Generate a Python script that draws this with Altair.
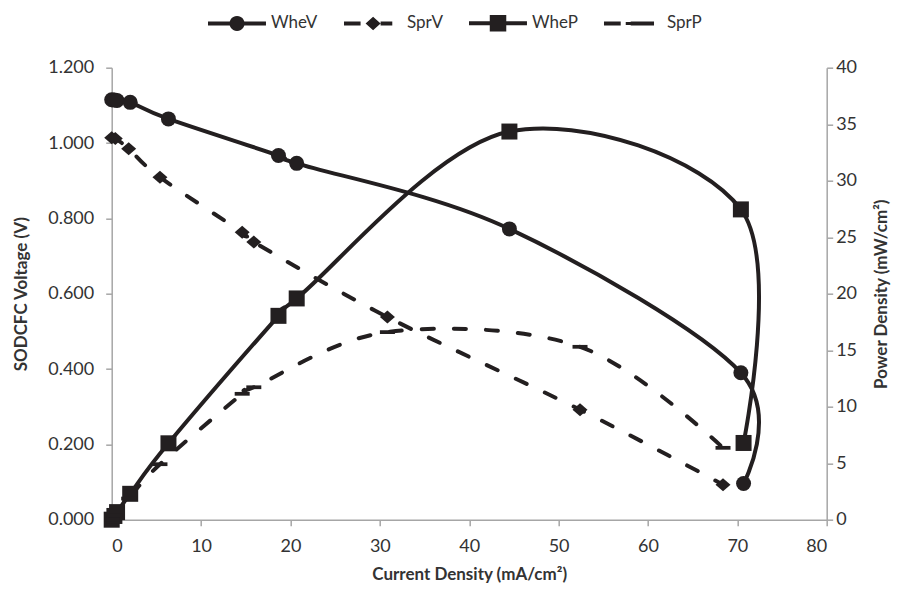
import math
import altair as alt
import pandas as pd

INK = "#231f20"
AXIS_GREY = "#a6a6a6"
TEXT = "#333333"
FONT = "Lato"

series_names = ["WheV", "SprV", "WheP", "SprP"]

# wheat-based fuel cell
whe_current = [0.0, 0.3, 0.6, 2.07, 6.35, 18.66, 20.7, 44.5, 70.4, 70.7]
whe_voltage = [1.115, 1.114, 1.113, 1.108, 1.064, 0.967, 0.946, 0.772, 0.390, 0.096]
whe_power = [0.0, 0.33, 0.67, 2.29, 6.76, 18.04, 19.58, 34.35, 27.46, 6.79]

# sprouted fuel cell
spr_current = [0.0, 0.4, 1.9, 5.4, 14.6, 15.9, 30.85, 52.4, 68.4]
spr_voltage = [1.014, 1.012, 0.985, 0.909, 0.763, 0.737, 0.538, 0.292, 0.093]
spr_power = [0.0, 0.40, 1.87, 4.91, 11.14, 11.72, 16.60, 15.30, 6.36]

x_ticks = [0, 10, 20, 30, 40, 50, 60, 70, 80]
v_ticks = [0.0, 0.2, 0.4, 0.6, 0.8, 1.0, 1.2]
p_ticks = [0, 5, 10, 15, 20, 25, 30, 35, 40]

vdf = pd.DataFrame({
    "series": ["WheV"] * len(whe_current) + ["SprV"] * len(spr_current),
    "current": whe_current + spr_current,
    "value": whe_voltage + spr_voltage,
})
pdf = pd.DataFrame({
    "series": ["WheP"] * len(whe_current) + ["SprP"] * len(spr_current),
    "current": whe_current + spr_current,
    "value": whe_power + spr_power,
})
legend_df = pd.DataFrame({"series": series_names,
                          "current": [0.0] * 4, "value": [0.0] * 4})


# legend symbols: line segment + marker, in symbol units (straight segments only)
def bar(x0, x1, h):
    return f"M{x0:.2f},{-h:.2f}L{x1:.2f},{-h:.2f}L{x1:.2f},{h:.2f}L{x0:.2f},{h:.2f}Z"


def disc(cx, r, n=24):
    pts = [(cx + r * math.cos(2 * math.pi * k / n), r * math.sin(2 * math.pi * k / n))
           for k in range(n)]
    return "M" + "L".join(f"{px:.2f},{py:.2f}" for px, py in pts) + "Z"


def rhomb(cx, rx, ry):
    return f"M{cx - rx:.2f},0L{cx:.2f},{-ry:.2f}L{cx + rx:.2f},0L{cx:.2f},{ry:.2f}Z"


def box(cx, r):
    return bar(cx - r, cx + r, r)


legend_paths = [
    bar(-1, 1.97, 0.27) + disc(2.87, 1.0) + bar(3.77, 6.73, 0.27),
    bar(-1, 1.21, 0.27) + rhomb(2.88, 1.0, 0.9) + bar(3.88, 5.44, 0.27),
    bar(-1, 1.77, 0.27) + box(2.87, 1.1) + bar(3.97, 6.73, 0.27),
    bar(-1, 1.23, 0.27) + bar(1.9, 3.87, 0.2) + bar(2.56, 5.67, 0.27),
]

x_axis = alt.Axis(values=x_ticks, title="Current Density (mA/cm²)", grid=False,
                  domainColor=AXIS_GREY, domainWidth=1.5, tickColor=AXIS_GREY,
                  tickWidth=1.5, tickSize=6, labelFont=FONT, labelFontSize=18,
                  labelColor=TEXT, labelPadding=12, titleFont=FONT,
                  titleFontSize=17, titleFontWeight="bold", titleColor=TEXT,
                  titlePadding=11)
v_axis = alt.Axis(values=v_ticks, format=".3f", title="SODCFC Voltage (V)",
                  grid=False, domainColor=AXIS_GREY, domainWidth=1.5,
                  tickColor=AXIS_GREY, tickWidth=1.5, tickSize=6,
                  labelFont=FONT, labelFontSize=18, labelColor=TEXT,
                  labelPadding=12, titleFont=FONT, titleFontSize=17,
                  titleFontWeight="bold", titleColor=TEXT, titlePadding=17)
p_axis = alt.Axis(values=p_ticks, orient="right", title="Power Density (mW/cm²)",
                  grid=False, domainColor=AXIS_GREY, domainWidth=1.5,
                  tickColor=AXIS_GREY, tickWidth=1.5, tickSize=6,
                  labelFont=FONT, labelFontSize=18, labelColor=TEXT,
                  labelPadding=3, titleFont=FONT, titleFontSize=17,
                  titleFontWeight="bold", titleColor=TEXT, titlePadding=17,
                  titleAngle=270, titleBaseline="top")

x_enc = alt.X("current:Q", scale=alt.Scale(domain=[0, 80], nice=False, zero=False), axis=x_axis)
yv_enc = alt.Y("value:Q", scale=alt.Scale(domain=[0, 1.2], nice=False), axis=v_axis)
yp_enc = alt.Y("value:Q", scale=alt.Scale(domain=[0, 40], nice=False), axis=p_axis)


def line_layer(df, name, dashed, y_enc):
    style = dict(interpolate="cardinal", tension=0, strokeWidth=4, color=INK,
                 strokeCap="round")
    if dashed:
        style["strokeDash"] = [12, 20]
    return alt.Chart(df).transform_filter(alt.datum.series == name).mark_line(
        **style).encode(x=x_enc, y=y_enc)


def marker_layer(df, name, shape, size, y_enc):
    return alt.Chart(df).transform_filter(alt.datum.series == name).mark_point(
        shape=shape, size=size, filled=True, opacity=1, color=INK, strokeWidth=0
    ).encode(x=x_enc, y=y_enc)


legend_layer = alt.Chart(legend_df).mark_point(
    filled=True, opacity=0, color=INK, size=225, strokeWidth=0
).encode(
    x=x_enc, y=yv_enc,
    shape=alt.Shape("series:N",
                    scale=alt.Scale(domain=series_names, range=legend_paths),
                    legend=alt.Legend(orient="none", legendX=95.3, legendY=-53,
                                      direction="horizontal", title=None,
                                      labelFont=FONT, labelFontSize=17,
                                      labelColor=TEXT, labelOffset=47,
                                      columnPadding=25, symbolSize=225,
                                      symbolStrokeWidth=0, symbolFillColor=INK,
                                      symbolOpacity=1, padding=0)),
)

left = alt.layer(
    line_layer(vdf, "WheV", False, yv_enc),
    line_layer(vdf, "SprV", True, yv_enc),
    marker_layer(vdf, "WheV", "circle", 225, yv_enc),
    marker_layer(vdf, "SprV", "M-1,0L0,-0.87L1,0L0,0.87Z", 225, yv_enc),
    legend_layer,
)
right = alt.layer(
    line_layer(pdf, "WheP", False, yp_enc),
    line_layer(pdf, "SprP", True, yp_enc),
    marker_layer(pdf, "WheP", "square", 256, yp_enc),
    marker_layer(pdf, "SprP", "M-1,-0.25L1,-0.25L1,0.25L-1,0.25Z", 225, yp_enc),
)

chart = alt.layer(left, right).resolve_scale(y="independent").properties(
    width=715, height=452,
    autosize=alt.AutoSizeParams(type="none"),
    padding={"left": 103.7, "top": 59.7, "right": 74, "bottom": 63},
    background="white",
).configure_view(stroke=None)

chart.save("out.html", embed_options={"renderer": "svg", "actions": False})
